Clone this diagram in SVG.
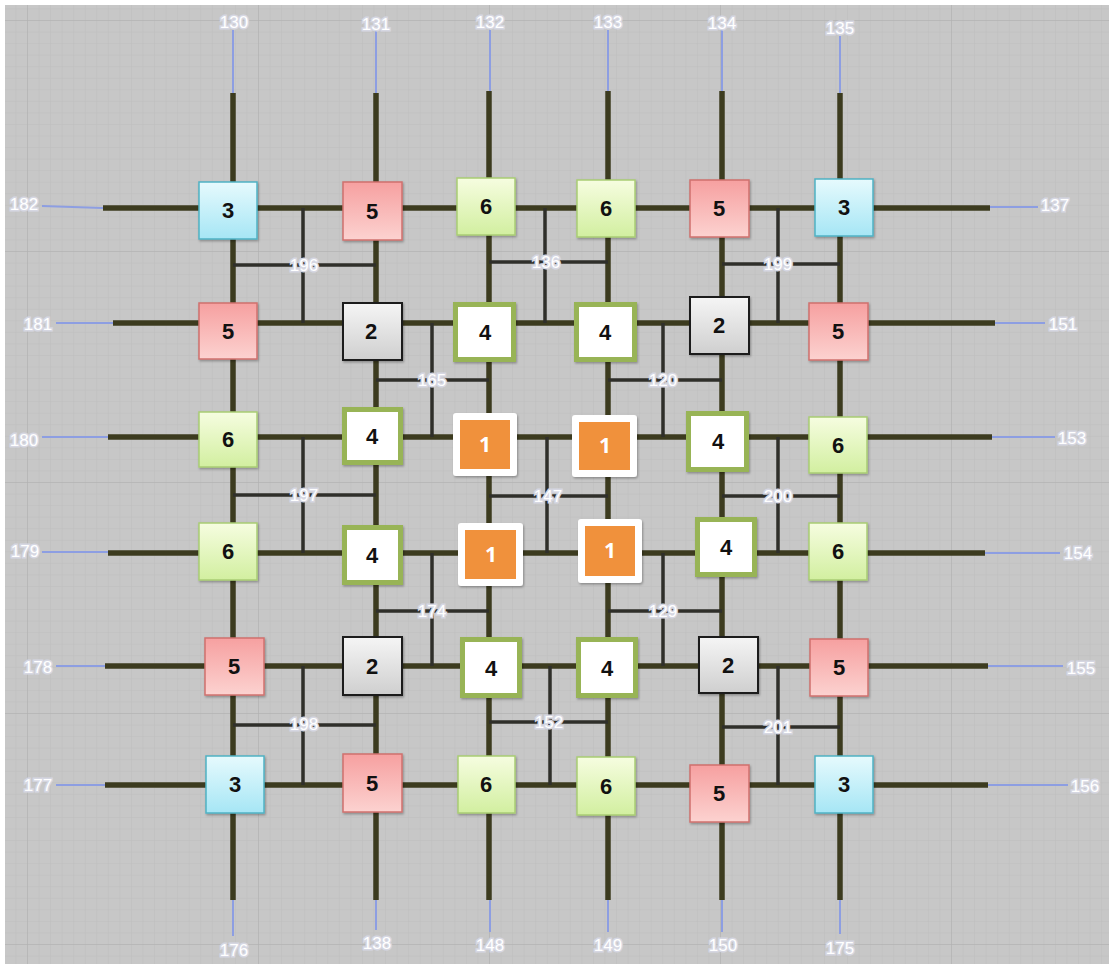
<svg xmlns="http://www.w3.org/2000/svg" width="1109" height="964" viewBox="0 0 1109 964">
<defs>
<pattern id="gMinor" patternUnits="userSpaceOnUse" x="27" y="20" width="11.55" height="11.55">
<path d="M0 0V11.55M0 0H11.55" fill="none" stroke="#bdbdbd" stroke-width="1"/>
</pattern>
<pattern id="gMajor" patternUnits="userSpaceOnUse" x="27" y="20" width="231" height="231">
<path d="M0 0V231M0 0H231" fill="none" stroke="#aeaeae" stroke-width="1"/>
</pattern>
<linearGradient id="gCyan" x1="0" y1="0" x2="0" y2="1"><stop offset="0" stop-color="#e6fafd"/><stop offset="1" stop-color="#a6e6f5"/></linearGradient>
<linearGradient id="gRed" x1="0" y1="0" x2="0" y2="1"><stop offset="0" stop-color="#f6a0a0"/><stop offset="1" stop-color="#fcd2d0"/></linearGradient>
<linearGradient id="gGreen" x1="0" y1="0" x2="0" y2="1"><stop offset="0" stop-color="#f6fde0"/><stop offset="1" stop-color="#d2efa0"/></linearGradient>
<linearGradient id="gGray" x1="0" y1="0" x2="0" y2="1"><stop offset="0" stop-color="#f5f5f5"/><stop offset="1" stop-color="#cfcfcf"/></linearGradient>
<filter id="sh" x="-20%" y="-20%" width="140%" height="140%"><feDropShadow dx="1" dy="1.5" stdDeviation="1.2" flood-color="#000" flood-opacity="0.3"/></filter>
</defs>
<style>
.main{fill:none;stroke:#3c3b1f;stroke-width:5.5;stroke-linecap:butt}
.rung{fill:none;stroke:#2f2f2a;stroke-width:3.5}
.lead{fill:none;stroke:#8d9ee2;stroke-width:2}
.lbl{font-family:"Liberation Sans",Arial,sans-serif;font-size:17px;fill:#ffffff;text-anchor:middle;stroke:#d6d7e2;stroke-width:3px;paint-order:stroke}
.nt{font-family:"Liberation Sans",Arial,sans-serif;font-size:22px;font-weight:bold;fill:#111;text-anchor:middle}
.nt1{font-family:"Open Sans","Liberation Sans",Arial,sans-serif;font-size:21px;font-weight:bold;fill:#ffffff;text-anchor:middle}
.n3{fill:url(#gCyan);stroke:#4fb2c4;stroke-width:1.5;filter:url(#sh)}
.n5{fill:url(#gRed);stroke:#d0706e;stroke-width:1.5;filter:url(#sh)}
.n6{fill:url(#gGreen);stroke:#a9cd74;stroke-width:1.5;filter:url(#sh)}
.n2{fill:url(#gGray);stroke:#1e1e1e;stroke-width:2;filter:url(#sh)}
.n4{fill:#ffffff;stroke:#98b456;stroke-width:5;filter:url(#sh)}
.n1o{fill:#ffffff;stroke:none;filter:url(#sh)}
.n1i{fill:#f0913c}
</style>
<rect x="0" y="0" width="1109" height="964" fill="#ffffff"/>
<rect x="5" y="5" width="1104" height="959" fill="#c7c7c7"/>
<rect x="5" y="5" width="1104" height="959" fill="url(#gMinor)"/>
<rect x="5" y="5" width="1104" height="959" fill="url(#gMajor)"/>

<g id="connectors">
<path class="main" d="M103 208H990"/>
<path class="main" d="M113 323H995"/>
<path class="main" d="M108 437H992"/>
<path class="main" d="M108 553H985"/>
<path class="main" d="M105 666H988"/>
<path class="main" d="M105 785H988"/>
<path class="main" d="M233 93V900"/>
<path class="main" d="M376 93V900"/>
<path class="main" d="M489 91V900"/>
<path class="main" d="M608 91V900"/>
<path class="main" d="M722 91V900"/>
<path class="main" d="M840 93V900"/>
<path class="rung" d="M233 265H376M303 208V323"/>
<path class="rung" d="M489 262H608M545 208V323"/>
<path class="rung" d="M722 264H840M778 208V323"/>
<path class="rung" d="M376 380H489M432 323V437"/>
<path class="rung" d="M608 380H722M663 323V437"/>
<path class="rung" d="M233 495H376M303 437V553"/>
<path class="rung" d="M489 496H608M547 437V553"/>
<path class="rung" d="M722 496H840M778 437V553"/>
<path class="rung" d="M376 611H489M432 553V666"/>
<path class="rung" d="M608 611H722M663 553V666"/>
<path class="rung" d="M233 725H376M303 666V785"/>
<path class="rung" d="M489 722H608M550 666V785"/>
<path class="rung" d="M722 727H840M778 666V785"/>
<path class="lead" d="M233 30V93M376 30V93M490 30V91M608 30V91M722 30V91M840 36V93"/>
<path class="lead" d="M233 900V936M376 900V930M490 900V932M608 900V932M722 900V932M840 900V934"/>
<path class="lead" d="M42 206L103 208M56 323H113M42 437H108M42 552H108M56 666H105M56 785H105"/>
<path class="lead" d="M990 207H1038M995 323H1045M992 437H1055M985 553H1060M988 666H1063M988 785H1068"/>
</g>

<g id="labels">
<text class="lbl" x="234" y="28">130</text>
<text class="lbl" x="376" y="30">131</text>
<text class="lbl" x="490" y="28">132</text>
<text class="lbl" x="608" y="28">133</text>
<text class="lbl" x="722" y="29">134</text>
<text class="lbl" x="840" y="34">135</text>
<text class="lbl" x="234" y="956">176</text>
<text class="lbl" x="377" y="949">138</text>
<text class="lbl" x="490" y="951">148</text>
<text class="lbl" x="608" y="951">149</text>
<text class="lbl" x="723" y="951">150</text>
<text class="lbl" x="840" y="954">175</text>
<text class="lbl" x="24" y="210">182</text>
<text class="lbl" x="38" y="330">181</text>
<text class="lbl" x="24" y="446">180</text>
<text class="lbl" x="25" y="557">179</text>
<text class="lbl" x="38" y="673">178</text>
<text class="lbl" x="38" y="791">177</text>
<text class="lbl" x="1055" y="211">137</text>
<text class="lbl" x="1063" y="330">151</text>
<text class="lbl" x="1072" y="444">153</text>
<text class="lbl" x="1078" y="559">154</text>
<text class="lbl" x="1081" y="674">155</text>
<text class="lbl" x="1085" y="792">156</text>
<text class="lbl" x="304" y="271">196</text>
<text class="lbl" x="546" y="268">136</text>
<text class="lbl" x="778" y="270">199</text>
<text class="lbl" x="432" y="386">165</text>
<text class="lbl" x="663" y="386">120</text>
<text class="lbl" x="304" y="501">197</text>
<text class="lbl" x="548" y="502">147</text>
<text class="lbl" x="778" y="502">200</text>
<text class="lbl" x="432" y="617">174</text>
<text class="lbl" x="663" y="617">129</text>
<text class="lbl" x="304" y="730">198</text>
<text class="lbl" x="549" y="728">152</text>
<text class="lbl" x="778" y="733">201</text>
</g>

<g id="r1c1"><rect class="n3" x="199" y="182" width="58" height="57"/><text class="nt" x="228" y="218">3</text></g>
<g id="r1c2"><rect class="n5" x="343" y="182" width="59" height="58"/><text class="nt" x="372" y="219">5</text></g>
<g id="r1c3"><rect class="n6" x="457" y="178" width="58" height="57"/><text class="nt" x="486" y="214">6</text></g>
<g id="r1c4"><rect class="n6" x="577" y="180" width="58" height="57"/><text class="nt" x="606" y="216">6</text></g>
<g id="r1c5"><rect class="n5" x="690" y="180" width="59" height="57"/><text class="nt" x="719" y="216">5</text></g>
<g id="r1c6"><rect class="n3" x="815" y="179" width="58" height="57"/><text class="nt" x="844" y="215">3</text></g>
<g id="r2c1"><rect class="n5" x="199" y="303" width="58" height="56"/><text class="nt" x="228" y="339">5</text></g>
<g id="r2c2"><rect class="n2" x="343" y="303" width="59" height="57"/><text class="nt" x="371" y="339">2</text></g>
<g id="r2c3"><rect class="n4" x="455.5" y="304.5" width="58" height="55"/><text class="nt" x="485" y="340">4</text></g>
<g id="r2c4"><rect class="n4" x="576.5" y="304.5" width="58" height="55"/><text class="nt" x="605" y="340">4</text></g>
<g id="r2c5"><rect class="n2" x="690" y="297" width="59" height="57"/><text class="nt" x="719" y="333">2</text></g>
<g id="r2c6"><rect class="n5" x="809" y="303" width="59" height="57"/><text class="nt" x="838" y="339">5</text></g>
<g id="r3c1"><rect class="n6" x="199" y="412" width="58" height="55"/><text class="nt" x="228" y="447">6</text></g>
<g id="r3c2"><rect class="n4" x="344.5" y="409.5" width="56" height="53"/><text class="nt" x="372" y="444">4</text></g>
<g id="r3c3"><rect class="n1o" x="453" y="413" width="64" height="63" rx="3"/><rect class="n1i" x="460" y="420" width="50" height="49"/><text class="nt1" x="485" y="452">1</text></g>
<g id="r3c4"><rect class="n1o" x="572" y="415" width="65" height="62" rx="3"/><rect class="n1i" x="579" y="422" width="51" height="48"/><text class="nt1" x="605" y="453">1</text></g>
<g id="r3c5"><rect class="n4" x="688.5" y="413.5" width="58" height="56"/><text class="nt" x="718" y="449">4</text></g>
<g id="r3c6"><rect class="n6" x="809" y="417" width="58" height="56"/><text class="nt" x="838" y="453">6</text></g>
<g id="r4c1"><rect class="n6" x="199" y="523" width="58" height="57"/><text class="nt" x="228" y="559">6</text></g>
<g id="r4c2"><rect class="n4" x="344.5" y="527.5" width="56" height="55"/><text class="nt" x="372" y="563">4</text></g>
<g id="r4c3"><rect class="n1o" x="458" y="523" width="65" height="63" rx="3"/><rect class="n1i" x="465" y="530" width="51" height="49"/><text class="nt1" x="491" y="562">1</text></g>
<g id="r4c4"><rect class="n1o" x="578" y="519" width="64" height="64" rx="3"/><rect class="n1i" x="585" y="526" width="50" height="50"/><text class="nt1" x="610" y="558">1</text></g>
<g id="r4c5"><rect class="n4" x="697.5" y="519.5" width="57" height="55"/><text class="nt" x="726" y="555">4</text></g>
<g id="r4c6"><rect class="n6" x="809" y="523" width="58" height="57"/><text class="nt" x="838" y="559">6</text></g>
<g id="r5c1"><rect class="n5" x="205" y="638" width="59" height="57"/><text class="nt" x="234" y="674">5</text></g>
<g id="r5c2"><rect class="n2" x="343" y="637" width="59" height="58"/><text class="nt" x="372" y="674">2</text></g>
<g id="r5c3"><rect class="n4" x="462.5" y="639.5" width="57" height="56"/><text class="nt" x="491" y="676">4</text></g>
<g id="r5c4"><rect class="n4" x="578.5" y="639.5" width="57" height="56"/><text class="nt" x="607" y="676">4</text></g>
<g id="r5c5"><rect class="n2" x="699" y="637" width="59" height="56"/><text class="nt" x="728" y="673">2</text></g>
<g id="r5c6"><rect class="n5" x="810" y="639" width="58" height="57"/><text class="nt" x="839" y="675">5</text></g>
<g id="r6c1"><rect class="n3" x="206" y="756" width="58" height="57"/><text class="nt" x="235" y="792">3</text></g>
<g id="r6c2"><rect class="n5" x="343" y="754" width="59" height="58"/><text class="nt" x="372" y="791">5</text></g>
<g id="r6c3"><rect class="n6" x="458" y="756" width="57" height="57"/><text class="nt" x="486" y="792">6</text></g>
<g id="r6c4"><rect class="n6" x="577" y="757" width="58" height="58"/><text class="nt" x="606" y="794">6</text></g>
<g id="r6c5"><rect class="n5" x="690" y="765" width="59" height="57"/><text class="nt" x="719" y="801">5</text></g>
<g id="r6c6"><rect class="n3" x="815" y="756" width="58" height="57"/><text class="nt" x="844" y="792">3</text></g>
</svg>
